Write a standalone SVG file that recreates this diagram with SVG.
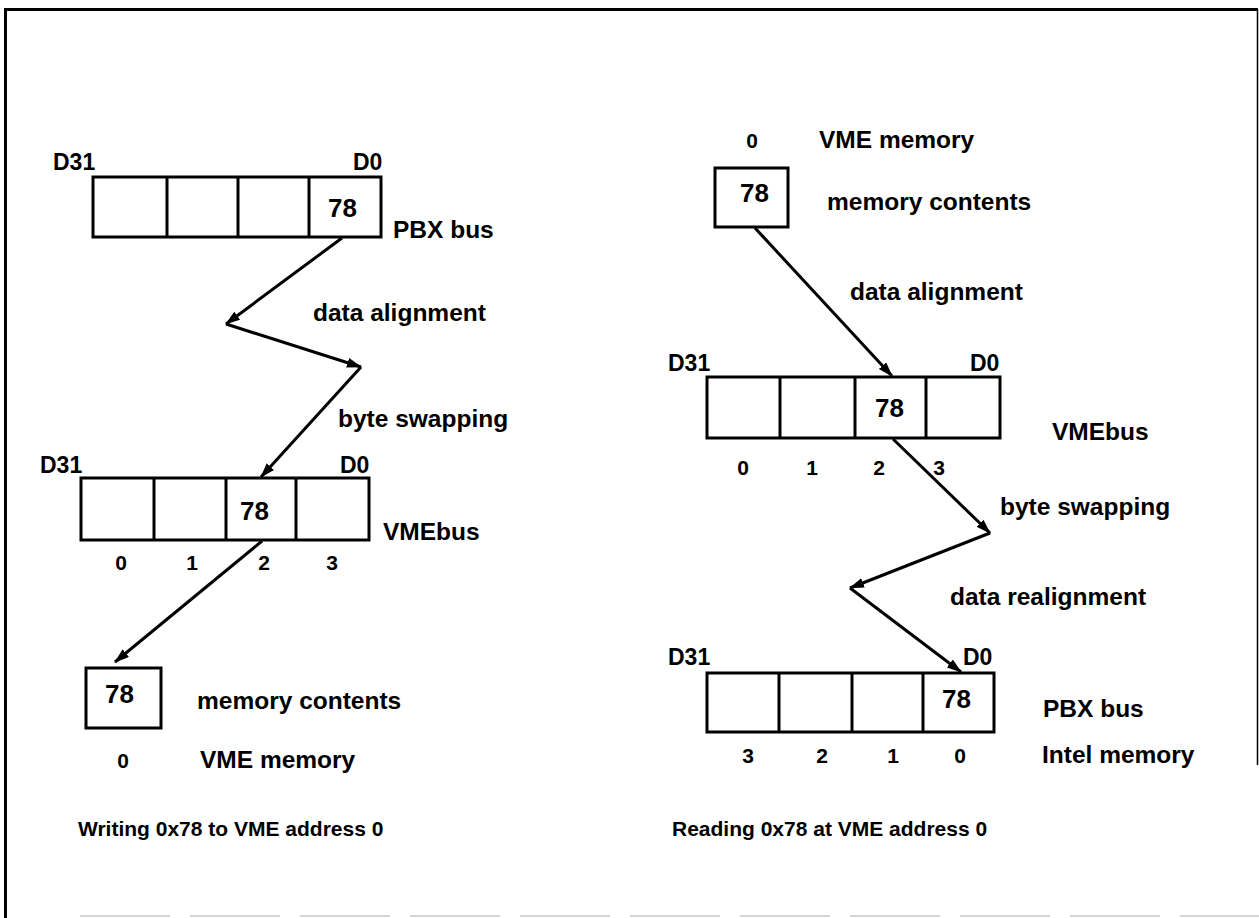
<svg xmlns="http://www.w3.org/2000/svg" width="1259" height="918" viewBox="0 0 1259 918">
<style>
text{font-family:"Liberation Sans",Arial,Helvetica,sans-serif;font-weight:bold;fill:#000}
.lbl{font-size:24.5px}
.d{font-size:23px}
.n{font-size:21px}
.v{font-size:26px}
.cap{font-size:21px}
.box{fill:#fff;stroke:#000;stroke-width:3}
.div{stroke:#000;stroke-width:3}
.con{fill:none;stroke:#000;stroke-width:3;marker-end:url(#ah)}
.frame{stroke:#000;fill:none}
</style>
<defs>
<marker id="ah" markerUnits="userSpaceOnUse" markerWidth="15" markerHeight="11" refX="14" refY="5" orient="auto">
<path d="M0,0 L15,5 L0,10 Z" fill="#000"/>
</marker>
</defs>
<rect width="1259" height="918" fill="#fff"/>
<g id="frame">
<line class="frame" x1="4" y1="9.5" x2="1258" y2="9.5" stroke-width="3"/>
<line class="frame" x1="5.5" y1="8" x2="5.5" y2="918" stroke-width="3"/>
<line class="frame" x1="1257.5" y1="9" x2="1257.5" y2="765" stroke-width="1.5"/>
<line x1="80" y1="916" x2="1259" y2="916" stroke="#c8c8c8" stroke-width="1.5" stroke-dasharray="90,20"/>
</g>
<g id="left-pbx">
<rect class="box" x="93" y="177" width="288" height="60"/>
<line class="div" x1="167" y1="177" x2="167" y2="237"/>
<line class="div" x1="238" y1="177" x2="238" y2="237"/>
<line class="div" x1="309" y1="177" x2="309" y2="237"/>
<text class="d" x="53" y="170">D31</text>
<text class="d" x="353" y="170">D0</text>
<text class="v" x="328" y="217">78</text>
<text class="lbl" x="393" y="238">PBX bus</text>
</g>
<g id="left-vme">
<rect class="box" x="81" y="478" width="288" height="62"/>
<line class="div" x1="154" y1="478" x2="154" y2="540"/>
<line class="div" x1="226" y1="478" x2="226" y2="540"/>
<line class="div" x1="296" y1="478" x2="296" y2="540"/>
<text class="d" x="40" y="473">D31</text>
<text class="d" x="340" y="473">D0</text>
<text class="v" x="240" y="520">78</text>
<text class="lbl" x="383" y="540">VMEbus</text>
<text class="n" x="121" y="570" text-anchor="middle">0</text>
<text class="n" x="192" y="570" text-anchor="middle">1</text>
<text class="n" x="264" y="570" text-anchor="middle">2</text>
<text class="n" x="332" y="570" text-anchor="middle">3</text>
</g>
<g id="left-mem">
<rect class="box" x="86" y="668" width="75" height="60"/>
<text class="v" x="105" y="703">78</text>
<text class="lbl" x="197" y="709">memory contents</text>
<text class="n" x="123" y="768" text-anchor="middle">0</text>
<text class="lbl" x="200" y="768">VME memory</text>
</g>
<g id="left-labels">
<text class="lbl" x="313" y="321">data alignment</text>
<text class="lbl" x="338" y="427">byte swapping</text>
<text class="cap" x="78" y="836">Writing 0x78 to VME address 0</text>
</g>
<g id="right-mem">
<text class="n" x="752" y="148" text-anchor="middle">0</text>
<text class="lbl" x="819" y="148">VME memory</text>
<rect class="box" x="715" y="168" width="73" height="59"/>
<text class="v" x="740" y="202">78</text>
<text class="lbl" x="827" y="210">memory contents</text>
</g>
<g id="right-vme">
<rect class="box" x="707" y="377" width="293" height="61"/>
<line class="div" x1="780" y1="377" x2="780" y2="438"/>
<line class="div" x1="855" y1="377" x2="855" y2="438"/>
<line class="div" x1="926" y1="377" x2="926" y2="438"/>
<text class="d" x="668" y="371">D31</text>
<text class="d" x="970" y="371">D0</text>
<text class="v" x="875" y="417">78</text>
<text class="lbl" x="1052" y="440">VMEbus</text>
<text class="n" x="743" y="475" text-anchor="middle">0</text>
<text class="n" x="812" y="475" text-anchor="middle">1</text>
<text class="n" x="879" y="475" text-anchor="middle">2</text>
<text class="n" x="939" y="475" text-anchor="middle">3</text>
</g>
<g id="right-pbx">
<rect class="box" x="707" y="673" width="287" height="59"/>
<line class="div" x1="779" y1="673" x2="779" y2="732"/>
<line class="div" x1="852" y1="673" x2="852" y2="732"/>
<line class="div" x1="923" y1="673" x2="923" y2="732"/>
<text class="d" x="668" y="665">D31</text>
<text class="d" x="963" y="665">D0</text>
<text class="v" x="942" y="708">78</text>
<text class="lbl" x="1043" y="717">PBX bus</text>
<text class="n" x="748" y="763" text-anchor="middle">3</text>
<text class="n" x="822" y="763" text-anchor="middle">2</text>
<text class="n" x="893" y="763" text-anchor="middle">1</text>
<text class="n" x="960" y="763" text-anchor="middle">0</text>
<text class="lbl" x="1042" y="763">Intel memory</text>
</g>
<g id="right-labels">
<text class="lbl" x="850" y="300">data alignment</text>
<text class="lbl" x="1000" y="515">byte swapping</text>
<text class="lbl" x="950" y="605">data realignment</text>
<text class="cap" x="672" y="836">Reading 0x78 at VME address 0</text>
</g>
<g id="connectors">
<line class="con" x1="342" y1="238" x2="226" y2="324"/>
<line class="con" x1="226" y1="324" x2="361" y2="367"/>
<line class="con" x1="361" y1="367" x2="261" y2="477"/>
<line class="con" x1="262" y1="541" x2="115" y2="662"/>
<line class="con" x1="755" y1="228" x2="892" y2="376"/>
<line class="con" x1="893" y1="439" x2="990" y2="533"/>
<line class="con" x1="990" y1="533" x2="850" y2="588"/>
<line class="con" x1="850" y1="588" x2="961" y2="672"/>
</g>
</svg>
